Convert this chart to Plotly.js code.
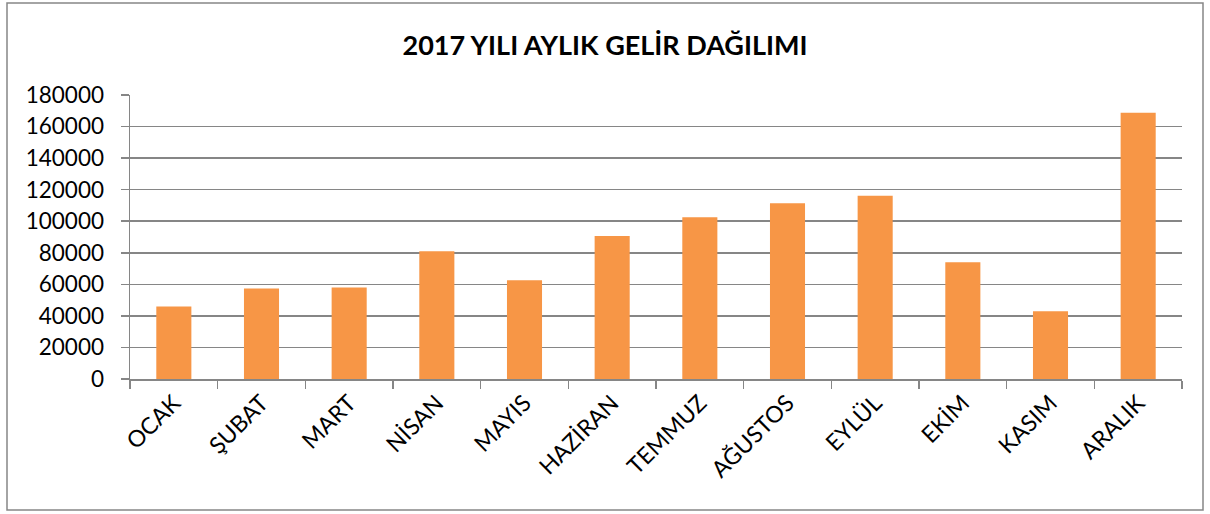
<!DOCTYPE html>
<html>
<head>
<meta charset="utf-8">
<script src="https://cdn.plot.ly/plotly-3.0.1.min.js"></script>
<style>html,body{margin:0;padding:0;background:#fff;}#chart{width:1210px;height:514px;}</style>
</head>
<body>
<div id="chart"></div>
<script>
const months = ["OCAK","ŞUBAT","MART","NİSAN","MAYIS","HAZİRAN","TEMMUZ","AĞUSTOS","EYLÜL","EKİM","KASIM","ARALIK"];
const income = [46000, 57300, 58000, 81000, 62600, 90700, 102500, 111400, 116100, 74000, 42900, 168700];
const yTicks = [0,20000,40000,60000,80000,100000,120000,140000,160000,180000];
const titleText = "2017 YILI AYLIK GELİR DAĞILIMI";

const fontFam = "Lato, 'Open Sans', sans-serif";
const gray = "#868686";

const trace = {
  type: "bar",
  x: months,
  y: income,
  marker: {color: "#F79646", line: {width: 0}},
  hoverinfo: "x+y"
};

const layout = {
  width: 1210, height: 514,
  margin: {l: 130, r: 28, t: 95, b: 135},
  paper_bgcolor: "#fff", plot_bgcolor: "#fff",
  showlegend: false,
  bargap: 0.6,
  title: {text: titleText, font: {family: fontFam, size: 27, color: "#000", weight: "bold"}, x: 0.5, xanchor: "center", y: 0.912, yanchor: "middle"},
  font: {family: fontFam, color: "#000"},
  xaxis: {
    type: "category",
    tickangle: -45,
    tickfont: {family: fontFam, size: 23, color: "#000"},
    showgrid: false,
    showline: true, linecolor: gray, linewidth: 1.5,
    ticks: "outside", ticklen: 8, tickcolor: gray, tickwidth: 1.5,
    tickson: "boundaries",
    fixedrange: true
  },
  yaxis: {
    range: [0, 180000],
    tickvals: yTicks,
    ticktext: yTicks.map(String),
    tickfont: {family: fontFam, size: 22.5, color: "#000"},
    showgrid: true, gridcolor: gray, gridwidth: 1.5,
    zeroline: false,
    showline: true, linecolor: gray, linewidth: 1.5,
    ticks: "outside", ticklen: 8, tickcolor: gray, tickwidth: 1.5,
    ticklabelstandoff: 12,
    fixedrange: true
  },
  shapes: [{
    type: "rect", xref: "paper", yref: "paper",
    x0: (7 - 130) / 1052, x1: (1203 - 130) / 1052,
    y0: (379 - 510) / 284, y1: (379 - 3) / 284,
    line: {color: gray, width: 1.5}, fillcolor: "rgba(0,0,0,0)", layer: "below"
  }]
};

Plotly.newPlot("chart", [trace], layout, {staticPlot: true, displayModeBar: false});
</script>
</body>
</html>
